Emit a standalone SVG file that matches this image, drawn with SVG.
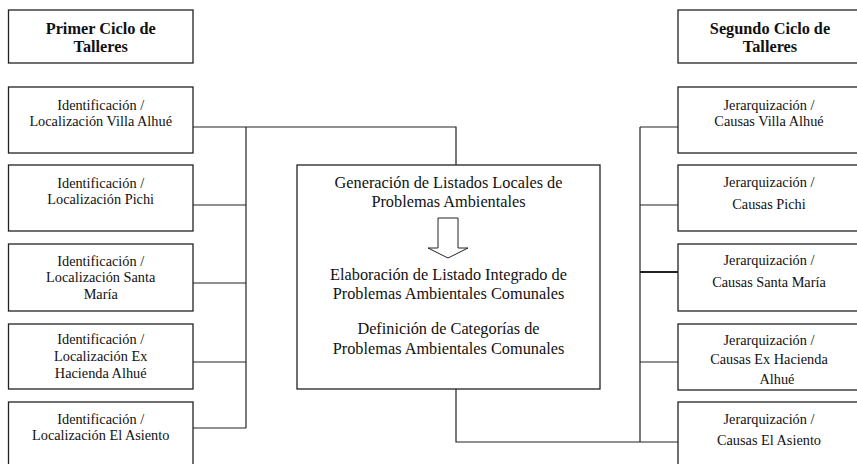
<svg xmlns="http://www.w3.org/2000/svg" width="857" height="464" viewBox="0 0 857 464">
<style>
.box{fill:#fff;stroke:#222;stroke-width:1.3}
.ln{fill:none;stroke:#222;stroke-width:1.2}
.t{font-family:"Liberation Serif","Times New Roman",serif;font-size:14.3px;fill:#111;text-anchor:middle}
.c{font-family:"Liberation Serif","Times New Roman",serif;font-size:16.3px;fill:#111;text-anchor:middle}
.h{font-family:"Liberation Serif","Times New Roman",serif;font-size:16.3px;font-weight:bold;fill:#111;text-anchor:middle}
</style>
<rect width="857" height="464" fill="#fff"/>
<g id="connectors">
<polyline class="ln" points="193,127 456,127 456,165"/>
<line class="ln" x1="246" y1="127" x2="246" y2="428"/>
<line class="ln" x1="193" y1="205" x2="246" y2="205"/>
<line class="ln" x1="193" y1="283" x2="246" y2="283"/>
<line class="ln" x1="193" y1="362" x2="246" y2="362"/>
<line class="ln" x1="193" y1="428" x2="246" y2="428"/>
<polyline class="ln" points="456,389 456,442 678,442"/>
<line class="ln" x1="640" y1="127" x2="640" y2="442"/>
<line class="ln" x1="640" y1="127" x2="678" y2="127"/>
<line class="ln" x1="640" y1="205" x2="678" y2="205"/>
<line class="ln" x1="640" y1="272" x2="678" y2="272" style="stroke-width:2"/>
<line class="ln" x1="640" y1="362" x2="678" y2="362"/>
</g>
<g id="header-left">
<rect class="box" x="8.5" y="10" width="184.5" height="53"/>
<text class="h" x="100.7" y="34">Primer Ciclo de</text>
<text class="h" x="100.7" y="52">Talleres</text>
</g>
<g id="header-right">
<rect class="box" x="678" y="10" width="184" height="53"/>
<text class="h" x="770" y="34">Segundo Ciclo de</text>
<text class="h" x="770" y="52">Talleres</text>
</g>
<g id="left-1">
<rect class="box" x="8.5" y="87" width="184.5" height="66"/>
<text class="t" x="100.7" y="110">Identificación /</text>
<text class="t" x="100.7" y="125.5">Localización Villa Alhué</text>
</g>
<g id="left-2">
<rect class="box" x="8.5" y="165" width="184.5" height="66"/>
<text class="t" x="100.7" y="188">Identificación /</text>
<text class="t" x="100.7" y="203.5">Localización Pichi</text>
</g>
<g id="left-3">
<rect class="box" x="8.5" y="244" width="184.5" height="67"/>
<text class="t" x="100.7" y="265.5">Identificación /</text>
<text class="t" x="100.7" y="282">Localización Santa</text>
<text class="t" x="100.7" y="298.5">María</text>
</g>
<g id="left-4">
<rect class="box" x="8.5" y="324" width="184.5" height="65"/>
<text class="t" x="100.7" y="344">Identificación /</text>
<text class="t" x="100.7" y="361">Localización Ex</text>
<text class="t" x="100.7" y="378">Hacienda Alhué</text>
</g>
<g id="left-5">
<rect class="box" x="8.5" y="402" width="184.5" height="66"/>
<text class="t" x="100.7" y="424">Identificación /</text>
<text class="t" x="100.7" y="440">Localización El Asiento</text>
</g>
<g id="center">
<rect class="box" x="297" y="165" width="303" height="224"/>
<text class="c" x="448.5" y="188">Generación de Listados Locales de</text>
<text class="c" x="448.5" y="207">Problemas Ambientales</text>
<polygon points="438,218 458,218 458,248 468,248 448,258 428,248 438,248" fill="#fff" stroke="#222" stroke-width="1"/>
<text class="c" x="448.5" y="279.5">Elaboración de Listado Integrado de</text>
<text class="c" x="448.5" y="298.5">Problemas Ambientales Comunales</text>
<text class="c" x="448.5" y="334">Definición de Categorías de</text>
<text class="c" x="448.5" y="354">Problemas Ambientales Comunales</text>
</g>
<g id="right-1">
<rect class="box" x="678" y="87" width="184" height="66"/>
<text class="t" x="769" y="109.5">Jerarquización /</text>
<text class="t" x="769" y="125.5">Causas Villa Alhué</text>
</g>
<g id="right-2">
<rect class="box" x="678" y="165" width="184" height="66"/>
<text class="t" x="769" y="187">Jerarquización /</text>
<text class="t" x="769" y="209">Causas Pichi</text>
</g>
<g id="right-3">
<rect class="box" x="678" y="244" width="184" height="67"/>
<text class="t" x="769" y="265">Jerarquización /</text>
<text class="t" x="769" y="287">Causas Santa María</text>
</g>
<g id="right-4">
<rect class="box" x="678" y="324" width="184" height="66"/>
<text class="t" x="769" y="345">Jerarquización /</text>
<text class="t" x="769" y="364">Causas Ex Hacienda</text>
<text class="t" x="777" y="383.5">Alhué</text>
</g>
<g id="right-5">
<rect class="box" x="678" y="402" width="184" height="66"/>
<text class="t" x="769" y="423.5">Jerarquización /</text>
<text class="t" x="769" y="445">Causas El Asiento</text>
</g>
</svg>
